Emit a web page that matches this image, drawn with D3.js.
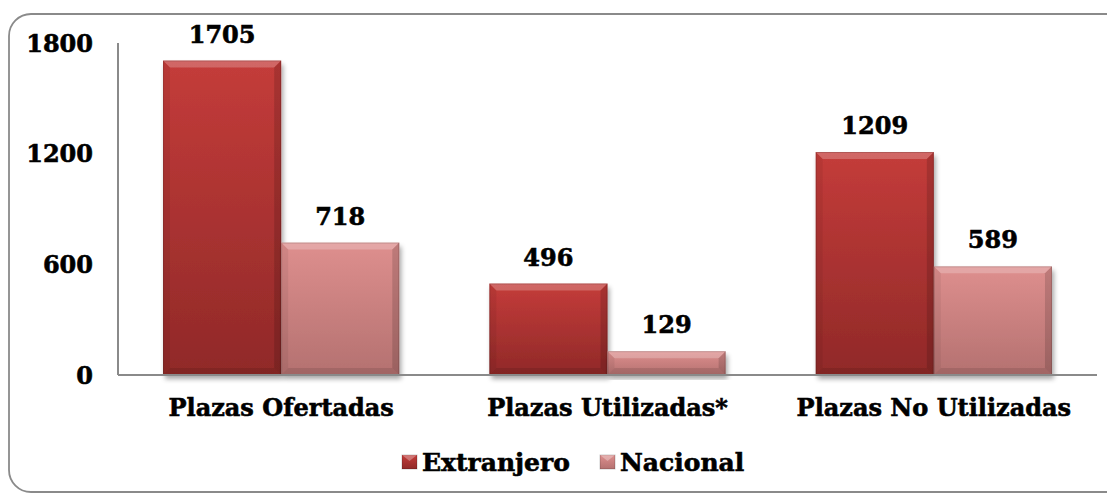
<!DOCTYPE html>
<html>
<head>
<meta charset="utf-8">
<script src="https://cdn.jsdelivr.net/npm/d3@7"></script>
<style>
  body { margin: 0; background: #fff; }
  text { font-family: "DejaVu Serif", serif; font-weight: bold; fill: #000; stroke: #000; stroke-width: 0.6px; }
</style>
</head>
<body>
<svg id="chart" width="1107" height="494"></svg>
<script>
// datos del grafico
const categorias = ['Plazas Ofertadas', 'Plazas Utilizadas*', 'Plazas No Utilizadas'];
const series = ['Extranjero', 'Nacional'];
const extranjero = [1705, 496, 1209];
const nacional = [718, 129, 589];
const ticks_y = [0, 600, 1200, 1800];

const colores = {
    Extranjero: { top: '#c43c3a', bottom: '#902928' },
    Nacional: { top: '#de8f8e', bottom: '#b47170' }
};

const svg = d3.select('#chart');
const defs = svg.append('defs');

// degradados de las barras
series.forEach(s => {
    const g = defs.append('linearGradient')
        .attr('id', 'grad_' + s)
        .attr('x1', 0).attr('y1', 0).attr('x2', 0).attr('y2', 1);
    g.append('stop').attr('offset', '0%').attr('stop-color', colores[s].top);
    g.append('stop').attr('offset', '100%').attr('stop-color', colores[s].bottom);
});

const sombra = defs.append('filter').attr('id', 'sombra')
    .attr('x', '-10%').attr('y', '-10%').attr('width', '130%').attr('height', '130%');
sombra.append('feGaussianBlur').attr('in', 'SourceAlpha').attr('stdDeviation', 2.5);
sombra.append('feOffset').attr('dx', 2).attr('dy', 4).attr('result', 'off');
sombra.append('feComponentTransfer').append('feFuncA').attr('type', 'linear').attr('slope', 0.35);
const merge = sombra.append('feMerge');
merge.append('feMergeNode');
merge.append('feMergeNode').attr('in', 'SourceGraphic');

// marco redondeado
svg.append('rect')
    .attr('x', 9).attr('y', 14)
    .attr('width', 1120).attr('height', 478)
    .attr('rx', 22)
    .attr('fill', '#fff')
    .attr('stroke', '#8a8a8a')
    .attr('stroke-width', 1.8);

const x = d3.scaleBand()
    .domain(categorias)
    .range([118, 1097])
    .paddingInner(0.276)
    .paddingOuter(0.138);

const xs = d3.scaleBand()
    .domain(series)
    .range([0, x.bandwidth()]);

const y = d3.scaleLinear()
    .domain([0, 1800])
    .range([375, 43]);

const datos = categorias.map((c, i) => ({
    cat: c,
    valores: [
        { serie: 'Extranjero', v: extranjero[i] },
        { serie: 'Nacional', v: nacional[i] }
    ]
}));

// barras con bisel
const b = 7;
const grupos = svg.selectAll('.grupo')
    .data(datos).enter()
    .append('g')
    .attr('class', 'grupo')
    .attr('transform', d => `translate(${x(d.cat)},0)`);

const barras = grupos.selectAll('.barra')
    .data(d => d.valores).enter()
    .append('g')
    .attr('class', 'barra');

barras.append('rect')
    .attr('x', d => xs(d.serie))
    .attr('y', d => y(d.v))
    .attr('width', xs.bandwidth())
    .attr('height', d => y(0) - y(d.v))
    .attr('fill', d => `url(#grad_${d.serie})`)
    .attr('filter', 'url(#sombra)');

barras.each(function (d) {
    const g = d3.select(this);
    const x0 = xs(d.serie), x1 = x0 + xs.bandwidth();
    const y0 = y(d.v), y1 = y(0);
    // arriba
    g.append('polygon')
        .attr('points', [[x0, y0], [x1, y0], [x1 - b, y0 + b], [x0 + b, y0 + b]].join(' '))
        .attr('fill', '#fff').attr('opacity', 0.22);
    // izquierda
    g.append('polygon')
        .attr('points', [[x0, y0], [x0 + b, y0 + b], [x0 + b, y1 - b], [x0, y1]].join(' '))
        .attr('fill', '#000').attr('opacity', 0.06);
    // derecha
    g.append('polygon')
        .attr('points', [[x1, y0], [x1, y1], [x1 - b, y1 - b], [x1 - b, y0 + b]].join(' '))
        .attr('fill', '#000').attr('opacity', 0.14);
    // abajo
    g.append('polygon')
        .attr('points', [[x0, y1], [x0 + b, y1 - b], [x1 - b, y1 - b], [x1, y1]].join(' '))
        .attr('fill', '#000').attr('opacity', 0.1);
    g.append('rect')
        .attr('x', x0 + 0.5).attr('y', y0 + 0.5)
        .attr('width', xs.bandwidth() - 1).attr('height', y1 - y0 - 1)
        .attr('fill', 'none').attr('stroke', '#000').attr('stroke-opacity', 0.15);
});

// etiquetas de valor
barras.append('text')
    .attr('x', d => xs(d.serie) + xs.bandwidth() / 2)
    .attr('y', d => y(d.v) - 18)
    .attr('text-anchor', 'middle')
    .style('font-size', '24px')
    .text(d => d.v);

// ejes
svg.append('line')
    .attr('x1', 118).attr('x2', 118)
    .attr('y1', y(1800)).attr('y2', y(0))
    .attr('stroke', '#8a8a8a').attr('stroke-width', 2);
svg.append('line')
    .attr('x1', 118).attr('x2', 1097)
    .attr('y1', y(0)).attr('y2', y(0))
    .attr('stroke', '#8a8a8a').attr('stroke-width', 2);

svg.selectAll('.tick_y')
    .data(ticks_y).enter()
    .append('text')
    .attr('class', 'tick_y')
    .attr('x', 93)
    .attr('y', d => y(d))
    .attr('dy', '0.36em')
    .attr('text-anchor', 'end')
    .style('font-size', '24px')
    .text(d => d);

svg.selectAll('.cat')
    .data(categorias).enter()
    .append('text')
    .attr('class', 'cat')
    .attr('x', d => x(d) + x.bandwidth() / 2)
    .attr('y', 416)
    .attr('text-anchor', 'middle')
    .style('font-size', '24px')
    .text(d => d);

// leyenda
const leyenda_x = [402, 600];
const ley = svg.selectAll('.ley')
    .data(series).enter()
    .append('g')
    .attr('class', 'ley')
    .attr('transform', (d, i) => `translate(${leyenda_x[i]},455)`);
ley.append('rect')
    .attr('width', 15).attr('height', 14)
    .attr('fill', d => `url(#grad_${d})`)
    .attr('stroke', '#000').attr('stroke-opacity', 0.2);
ley.append('polygon')
    .attr('points', '0,0 15,0 7.5,6')
    .attr('fill', '#fff').attr('opacity', 0.3);
ley.append('text')
    .attr('x', 20).attr('y', 16)
    .style('font-size', '25px')
    .text(d => d);
</script>
</body>
</html>
